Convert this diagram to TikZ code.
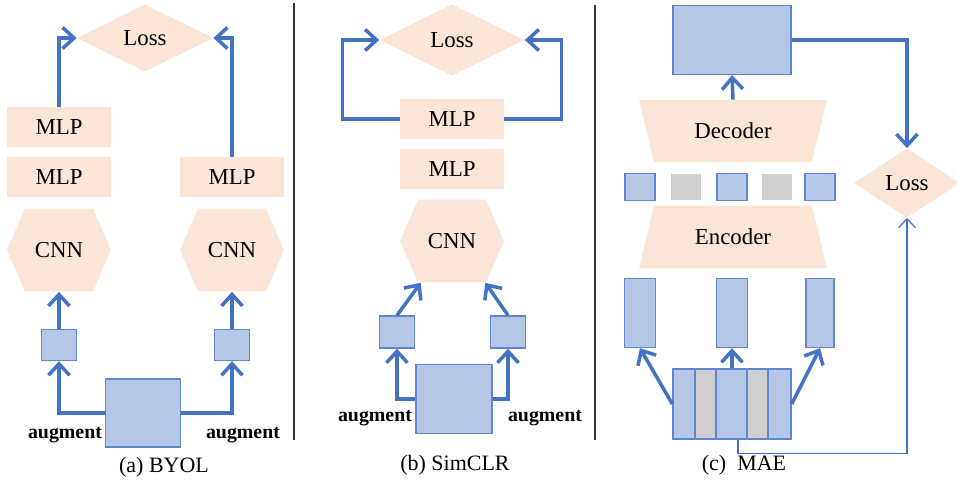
\documentclass[tikz,border=0pt]{standalone}
\usepackage{fontspec}
\setmainfont{Liberation Serif}
\usetikzlibrary{arrows.meta}

\definecolor{peach}{RGB}{251,229,214}
\definecolor{bluefill}{RGB}{180,199,231}
\definecolor{blueline}{RGB}{68,114,196}
\definecolor{grayfill}{RGB}{208,206,206}

\tikzset{
  txt/.style={font=\fontsize{13}{15}\selectfont},
  block/.style={txt,fill=peach,minimum width=2.08cm,minimum height=0.8cm,inner sep=0pt},
  hexa/.style={txt,minimum width=2.08cm,minimum height=1.66cm,inner sep=0pt,
    path picture={\fill[peach] (path picture bounding box.west)
      -- ([xshift=0.36cm]path picture bounding box.north west)
      -- ([xshift=-0.36cm]path picture bounding box.north east)
      -- (path picture bounding box.east)
      -- ([xshift=-0.36cm]path picture bounding box.south east)
      -- ([xshift=0.36cm]path picture bounding box.south west) -- cycle;}},
  diam/.style={txt,inner sep=0pt,
    path picture={\fill[peach] (path picture bounding box.west)
      -- (path picture bounding box.north) -- (path picture bounding box.east)
      -- (path picture bounding box.south) -- cycle;}},
  dec/.style={txt,minimum width=3.76cm,minimum height=1.24cm,inner sep=0pt,
    path picture={\fill[peach] (path picture bounding box.north west)
      -- (path picture bounding box.north east)
      -- ([xshift=-0.3cm]path picture bounding box.south east)
      -- ([xshift=0.3cm]path picture bounding box.south west) -- cycle;}},
  enc/.style={txt,minimum width=3.76cm,minimum height=1.26cm,inner sep=0pt,
    path picture={\fill[peach] ([xshift=0.3cm]path picture bounding box.north west)
      -- ([xshift=-0.3cm]path picture bounding box.north east)
      -- (path picture bounding box.south east)
      -- (path picture bounding box.south west) -- cycle;}},
  patch/.style={fill=bluefill,draw=blueline!85,line width=0.8pt,inner sep=0pt},
  masked/.style={fill=grayfill,inner sep=0pt},
  aug/.style={font=\fontsize{11.3}{13}\selectfont\bfseries},
  caption/.style={font=\fontsize{12.5}{14}\selectfont},
  conn/.style={draw=blueline,line width=2pt,-{Straight Barb[length=2.3mm,width=4.2mm]}},
  thinconn/.style={draw=blueline,line width=0.7pt,-{Straight Barb[length=1.8mm,width=3.4mm]}},
  rule/.style={draw=black!80,line width=0.7pt}
}

\begin{document}
\begin{tikzpicture}[x=0.02cm,y=-0.02cm]
  \useasboundingbox (0,0) rectangle (957,480);

  % (a) BYOL
  \node[diam,minimum width=2.72cm,minimum height=1.34cm] (lossa) at (145,38) {Loss};
  \node[block] (mlpa1) at (59,127) {MLP};
  \node[block] (mlpa2) at (59,177) {MLP};
  \node[block] (mlpa3) at (232,177) {MLP};
  \node[hexa] (cnna1) at (59,250) {CNN};
  \node[hexa] (cnna2) at (232,250) {CNN};
  \node[patch,minimum width=0.7cm,minimum height=0.62cm] (sqa1) at (59,345) {};
  \node[patch,minimum width=0.7cm,minimum height=0.62cm] (sqa2) at (232,345) {};
  \node[patch,minimum width=1.5cm,minimum height=1.36cm] (imga) at (143,413) {};
  \node[aug] (auga1) at (65,435) {augment};
  \node[aug] (auga2) at (243,435) {augment};
  \node[caption] (capa) at (164,467) {(a) BYOL};

  \draw[conn] (imga.west) -| (sqa1.south);
  \draw[conn] (imga.east) -| (sqa2.south);
  \draw[conn] (sqa1.north) -- (cnna1.south);
  \draw[conn] (sqa2.north) -- (cnna2.south);
  \draw[conn] (mlpa1.north) |- (lossa.west);
  \draw[conn] (mlpa3.north) |- (lossa.east);

  \draw[rule] (294,3) -- (294,440); % left rule

  % (b) SimCLR
  \node[diam,minimum width=2.9cm,minimum height=1.42cm] (lossb) at (452,40) {Loss};
  \node[block] (mlpb1) at (452,119) {MLP};
  \node[block] (mlpb2) at (452,169) {MLP};
  \node[hexa] (cnnb) at (452,241) {CNN};
  \node[patch,minimum width=0.7cm,minimum height=0.64cm] (sqb1) at (397,332) {};
  \node[patch,minimum width=0.7cm,minimum height=0.64cm] (sqb2) at (508,332) {};
  \node[patch,minimum width=1.52cm,minimum height=1.38cm] (imgb) at (454,399) {};
  \node[aug] (augb1) at (375,418) {augment};
  \node[aug] (augb2) at (545,418) {augment};
  \node[caption] (capb) at (455,465) {(b) SimCLR};

  \draw[conn] (imgb.west) -| (sqb1.south);
  \draw[conn] (imgb.east) -| (sqb2.south);
  \draw[conn] (sqb1.north) -- ([xshift=0.42cm]cnnb.south west);
  \draw[conn] (sqb2.north) -- ([xshift=-0.38cm]cnnb.south east);
  \draw[conn] (mlpb1.west) -- ++(-57,0) |- (lossb.west);
  \draw[conn] (mlpb1.east) -- ++(57,0) |- (lossb.east);

  \draw[rule] (595,5) -- (595,440); % right rule

  % (c) MAE
  \node[patch,minimum width=2.36cm,minimum height=1.38cm] (rec) at (732,40) {};
  \node[dec] (dec) at (733,131) {Decoder};
  \foreach \x/\c [count=\i] in {640/patch,686/masked,732/patch,777/masked,820/patch}
    \node[\c,minimum width=0.6cm,minimum height=0.54cm] (tok\i) at (\x,187) {};
  \node[enc] (enc) at (733,237) {Encoder};
  \foreach \x/\w [count=\i] in {640/0.62,732/0.62,820/0.56}
    \node[patch,minimum width=\w cm,minimum height=1.38cm] (tall\i) at (\x,313) {};
  \node[patch,minimum width=2.36cm,minimum height=1.4cm] (img) at (732,404) {};
  \node[masked,draw=blueline!85,line width=0.8pt,minimum width=0.42cm,minimum height=1.4cm] (msk1) at (705.5,404) {};
  \node[masked,draw=blueline!85,line width=0.8pt,minimum width=0.42cm,minimum height=1.4cm] (msk2) at (757.5,404) {};
  \node[diam,minimum width=2.12cm,minimum height=1.38cm] (lossc) at (907,183) {Loss};
  \node[caption] (capc) at (744,465) {(c)~ MAE};

  \draw[conn] (img.west) -- (tall1.south);
  \draw[conn] (img.north) -- (tall2.south);
  \draw[conn] (img.east) -- (tall3.south);
  \draw[conn] (dec.north) -- (rec.south);
  \draw[conn] (rec.east) -| (lossc.north);
  \draw[thinconn] ([xshift=0.12cm]img.south) -- ++(0,14) -| (lossc.south);

\end{tikzpicture}
\end{document}
